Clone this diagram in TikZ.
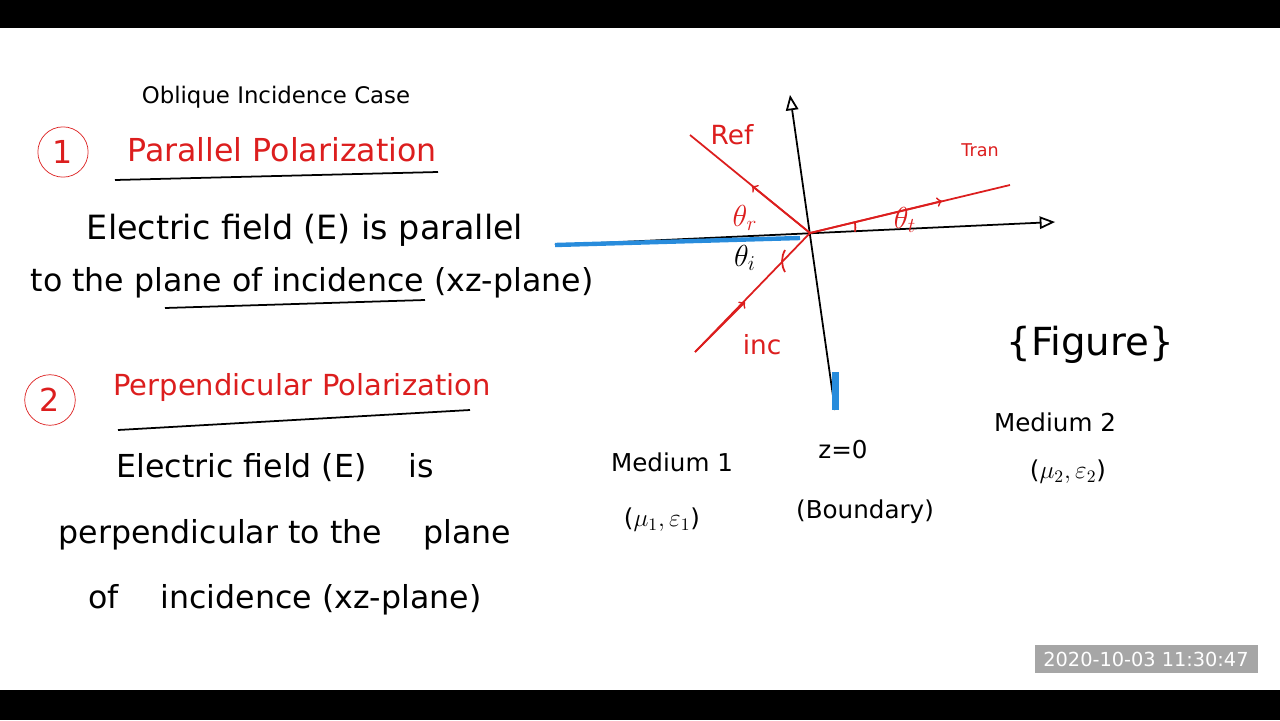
\documentclass[tikz,border=0pt]{standalone}
\usepackage{fontspec}
\setmainfont{DejaVu Sans}
\usetikzlibrary{arrows}
\definecolor{inkred}{RGB}{220,30,30}
\definecolor{inkblue}{RGB}{40,140,220}
\newcommand{\fs}[1]{\fontsize{#1}{#1}\selectfont}
\tikzset{
  hand/.style={font=\fs{18}},
  redhand/.style={hand, text=inkred},
  small/.style={font=\fs{14}},
  ray/.style={inkred, line width=1pt},
  axis/.style={black, line width=1pt, ->, >=open triangle 45}
}
\begin{document}
\begin{tikzpicture}[x=0.02cm,y=-0.02cm]
      \useasboundingbox (0,0) rectangle (1280,720);
      \fill[black] (0,0) rectangle (1280,28);
      \fill[black] (0,690) rectangle (1280,720);
      % left text
      \node[font=\fs{13}] (title) at (276,97) {Oblique Incidence Case};
      \node[redhand, draw=inkred, circle, inner sep=4pt] (one) at (63,152) {1};
      \node[redhand] (par) at (282,150) {Parallel Polarization};
      \draw[line width=1pt] (115,180) -- (438,172);
      \node[hand, font=\fs{19}] (e1) at (305,230) {Electric field (E) is parallel};
      \node[hand] (e2) at (312,283) {to the plane of incidence (xz-plane)};
      \draw[line width=1pt] (165,308) -- (425,300);
      \node[redhand, draw=inkred, circle, inner sep=4pt] (two) at (50,400) {2};
      \node[redhand, font=\fs{16.5}] (perp) at (302,387) {Perpendicular Polarization};
      \draw[line width=1pt] (118,430) -- (470,410);
      \node[hand] (e3) at (275,468) {Electric field (E) \quad is};
      \node[hand] (e4) at (285,535) {perpendicular to the \quad plane};
      \node[hand] (e5) at (285,600) {of \quad incidence (xz-plane)};
      % figure
      \coordinate (o) at (810,233);
      \coordinate (ztop) at (790,95);
      \coordinate (zbot) at (835,410);
      \coordinate (xl) at (555,245);
      \coordinate (xr) at (1055,222);
      \draw[axis] (zbot) -- (ztop);
      \draw[axis] (xl) -- (xr);
      \draw[inkblue, line width=2.5pt] (xl) -- (800,238);
      \draw[inkblue, line width=4pt] (835,372) -- (zbot);
      \coordinate (inc) at (695,352);
      \coordinate (ref) at (690,135);
      \coordinate (tra) at (1010,185);
      \draw[ray] (inc) -- (o) (o) -- (ref) (o) -- (tra);
      \draw[ray, ->] (inc) -- (745,302);
      \draw[ray, ->] (o) -- (752,186);
      \draw[ray, ->] (o) -- (942,201);
      \draw[ray] (785,250) arc (210:150:22);
      \draw[ray] (855,223) arc (-10:10:25);
      \node[redhand, font=\fs{15}] (refl) at (732,135) {Ref};
      \node[redhand, font=\fs{10}] (tral) at (980,150) {Tran};
      \node[redhand, font=\fs{15}] (incl) at (762,345) {inc};
      \node[redhand] (thr) at (745,218) {$\theta_r$};
      \node[hand] (thi) at (745,258) {$\theta_i$};
      \node[redhand] (tht) at (905,220) {$\theta_t$};
      \node[hand, font=\fs{22}] (fig) at (1090,345) {\{Figure\}};
      \node[small] (m1) at (672,462) {Medium 1};
      \node[small] (mu1) at (662,520) {($\mu_1,\varepsilon_1$)};
      \node[small] (z0) at (843,450) {z=0};
      \node[small] (bd) at (865,512) {(Boundary)};
      \node[small] (m2) at (1055,422) {Medium 2};
      \node[small] (mu2) at (1068,472) {($\mu_2,\varepsilon_2$)};
      % timestamp
      \node[fill=gray!70, text=white, font=\fs{11}, inner sep=0pt, minimum width=223*0.02cm, minimum height=28*0.02cm] (ts) at (1146,659) {2020-10-03 11:30:47};
\end{tikzpicture}
\end{document}
